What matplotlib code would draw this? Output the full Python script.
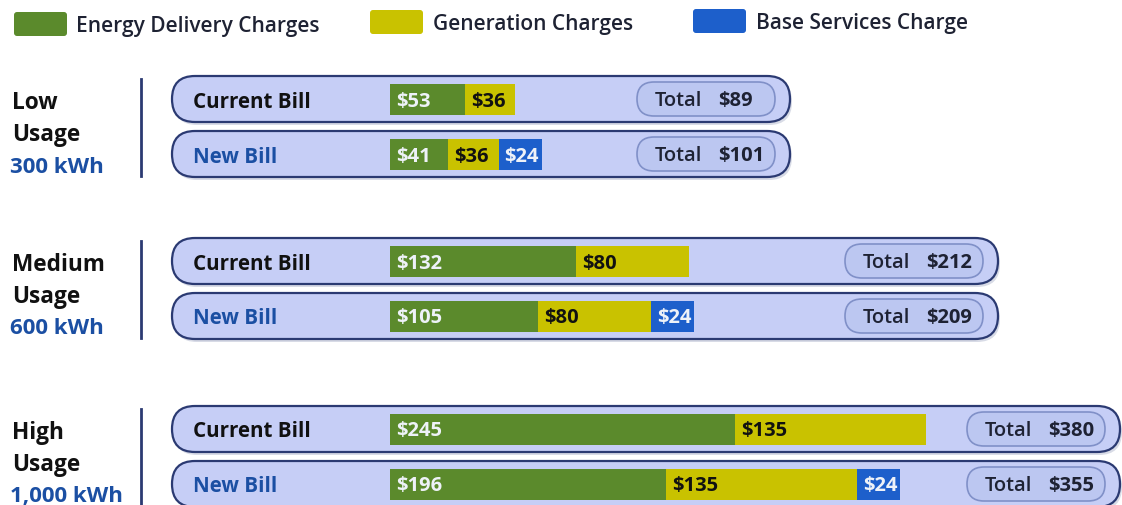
import matplotlib.pyplot as plt
from matplotlib.patches import FancyBboxPatch

plt.rcParams['font.family'] = ['Open Sans', 'DejaVu Sans']

groups = ["Low", "Medium", "High"]
usage = ["300 kWh", "600 kWh", "1,000 kWh"]
bills = ["Current Bill", "New Bill"]
delivery_current = [53, 132, 245]
generation_current = [36, 80, 135]
delivery_new = [41, 105, 196]
generation_new = [36, 80, 135]
base_new = [24, 24, 24]
total_current = [89, 212, 380]
total_new = [101, 209, 355]
legend_labels = ["Energy Delivery Charges", "Generation Charges", "Base Services Charge"]

GREEN = '#5b8a2c'
YELLOW = '#c9c200'
BLUE = '#1d5fcb'
NAVY = '#2b3a72'
PILL = '#c6cef6'
TOTAL_PILL = '#bcc7f1'
TXT_BLUE = '#1b4fa3'

W, H = 1122, 506
fig = plt.figure(figsize=(W / 100, H / 100), dpi=100)
ax = fig.add_axes([0, 0, 1, 1])
ax.set_xlim(0, W)
ax.set_ylim(H, 0)
ax.axis('off')

# layout (pixels)
x0 = 390
px_per_dollar = 1.41
min_seg = 43  # small segments are widened so the label fits
row_y = [(100, 155), (262, 317), (430, 485)]
pill_right = [790, 998, 1120]
pill_left = 172
pill_h = 46
bar_h = 31

# legend
leg_x = [(14, 76), (370, 433), (693, 756)]
leg_y = [25, 23, 22]
for (bx, tx), ly, col, lab in zip(leg_x, leg_y, [GREEN, YELLOW, BLUE], legend_labels):
    ax.add_patch(FancyBboxPatch((bx, ly - 12), 53, 24,
                                boxstyle='round,pad=0,rounding_size=3',
                                fc=col, ec='none'))
    ax.text(tx, ly + 1, lab, fontsize=15, fontweight='semibold', color='#1e2233',
            va='center', ha='left')

for i, g in enumerate(groups):
    yc, yn = row_y[i]
    # group label
    ax.text(12, yc + 3, g, fontsize=16.3, fontweight='bold', color='#111111', va='center')
    ax.text(12, yc + 35, "Usage", fontsize=16.3, fontweight='bold', color='#111111', va='center')
    ax.text(10, yn + 12, usage[i], fontsize=16, fontweight='bold', color=TXT_BLUE, va='center')
    ax.plot([141, 141], [yc - 20, yn + 22], color=NAVY, lw=2)

    rows = [
        (yc, [delivery_current[i], generation_current[i]], total_current[i]),
        (yn, [delivery_new[i], generation_new[i], base_new[i]], total_new[i]),
    ]
    for j, (y, segs, tot) in enumerate(rows):
        # shadow + outer pill
        ax.add_patch(FancyBboxPatch((pill_left + 2, y - pill_h / 2 + 3), pill_right[i] - pill_left, pill_h,
                                    boxstyle='round,pad=0,rounding_size=23',
                                    fc='#d8dbe6', ec='none', zorder=1))
        ax.add_patch(FancyBboxPatch((pill_left, y - pill_h / 2), pill_right[i] - pill_left, pill_h,
                                    boxstyle='round,pad=0,rounding_size=23',
                                    fc=PILL, ec=NAVY, lw=1.6, zorder=2))
        ax.text(193, y + 2, bills[j], fontsize=14.8, fontweight='bold',
                color='#111111' if j == 0 else TXT_BLUE, va='center', zorder=5)

        # stacked bars
        left = x0
        for k, v in enumerate(segs):
            col = [GREEN, YELLOW, BLUE][k]
            w = max(v * px_per_dollar, min_seg)
            ax.barh(y, w, left=left, height=bar_h, color=col, edgecolor='none', zorder=3)
            ax.text(left + 6, y + 1.5, f"${v}", fontsize=14.5, fontweight='bold',
                    color='#111111' if k == 1 else '#eef2f8', va='center', ha='left', zorder=5)
            left += w

        # total pill
        tr = pill_right[i] - 15
        tl = tr - 138
        ax.add_patch(FancyBboxPatch((tl, y - 17), tr - tl, 34,
                                    boxstyle='round,pad=0,rounding_size=17',
                                    fc=TOTAL_PILL, ec='#8090c8', lw=1.2, zorder=3))
        ax.text(tl + 18, y + 1, "Total", fontsize=14.5, fontweight='semibold', color='#1e2233',
                va='center', zorder=5)
        ax.text(tl + 81, y + 1, f"${tot}", fontsize=14.5, fontweight='bold', color='#1e2233',
                va='center', zorder=5)

fig.savefig('out.png', dpi=100, facecolor='white')
